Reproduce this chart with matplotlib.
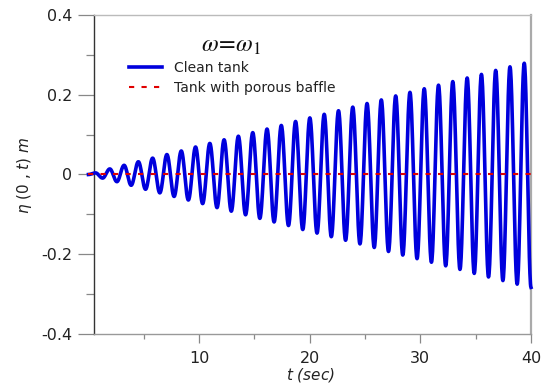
import numpy as np
import matplotlib
matplotlib.use("Agg")
import matplotlib.pyplot as plt
from matplotlib.ticker import FixedLocator, FixedFormatter

# ---- data: extrema of the clean-tank free-surface elevation ----
ext_t = [0.0, 0.64, 1.28, 1.93, 2.57, 3.22, 3.86, 4.51, 5.16, 5.80, 6.45, 7.09, 7.74, 8.39,
         9.03, 9.68, 10.32, 10.97, 11.62, 12.26, 12.91, 13.55, 14.20, 14.85, 15.49, 16.14,
         16.78, 17.43, 18.08, 18.72, 19.37, 20.01, 20.66, 21.31, 21.95, 22.60, 23.24, 23.89,
         24.54, 25.18, 25.83, 26.47, 27.12, 27.77, 28.41, 29.06, 29.70, 30.35, 31.00, 31.64,
         32.29, 32.93, 33.58, 34.23, 34.87, 35.52, 36.16, 36.81, 37.46, 38.10, 38.75, 39.39,
         40.0]
ext_eta = [0.0, 0.004, -0.009, 0.014, -0.018, 0.023, -0.027, 0.032, -0.037, 0.041, -0.046,
           0.050, -0.055, 0.059, -0.064, 0.069, -0.073, 0.078, -0.083, 0.087, -0.092, 0.096,
           -0.101, 0.105, -0.110, 0.114, -0.119, 0.123, -0.128, 0.133, -0.138, 0.142, -0.147,
           0.151, -0.156, 0.160, -0.165, 0.169, -0.174, 0.178, -0.183, 0.187, -0.193, 0.197,
           -0.202, 0.206, -0.211, 0.215, -0.220, 0.224, -0.229, 0.233, -0.238, 0.242, -0.248,
           0.251, -0.257, 0.261, -0.266, 0.270, -0.275, 0.279, -0.283]
# tank with porous baffle: stays at zero
baffle_t = [0.0, 40.0]
baffle_eta = [0.0, 0.0]

series_labels = ["Clean tank", "Tank with porous baffle"]
yticks = [-0.4, -0.2, 0.0, 0.2, 0.4]
ytick_labels = ["-0.4", "-0.2", "0", "0.2", "0.4"]
xticks = [10, 20, 30, 40]
xtick_labels = ["10", "20", "30", "40"]

# smooth (half-cosine) rendering between successive extrema
tt, ee = [], []
for i in range(len(ext_t) - 1):
    s = np.linspace(0, 1, 25, endpoint=False)
    tt.append(ext_t[i] + (ext_t[i + 1] - ext_t[i]) * s)
    ee.append(ext_eta[i] + (ext_eta[i + 1] - ext_eta[i]) * (1 - np.cos(np.pi * s)) / 2)
tt.append([ext_t[-1]]); ee.append([ext_eta[-1]])
tt = np.concatenate(tt); ee = np.concatenate(ee)

W, H = 548, 385
fig = plt.figure(figsize=(W / 100, H / 100), dpi=100)
ax = fig.add_axes([94 / W, 1 - 334 / H, (531 - 94) / W, (334 - 15) / H])

ax.plot(tt, ee, color="#0000dd", lw=2.6, label=series_labels[0], zorder=3, clip_on=False,
        solid_joinstyle="round")
ax.plot(baffle_t, baffle_eta, color="#e00000", lw=1.5, ls=(0, (2.5, 3.5)),
        label=series_labels[1], zorder=4, clip_on=False)

ax.set_xlim(0.5, 40)
ax.set_ylim(-0.4, 0.4)

ax.xaxis.set_major_locator(FixedLocator(xticks))
ax.xaxis.set_major_formatter(FixedFormatter(xtick_labels))
ax.xaxis.set_minor_locator(FixedLocator([5, 15, 25, 35]))
ax.yaxis.set_major_locator(FixedLocator(yticks))
ax.yaxis.set_major_formatter(FixedFormatter(ytick_labels))
ax.yaxis.set_minor_locator(FixedLocator([-0.3, -0.1, 0.1, 0.3]))

ax.tick_params(axis="y", which="major", direction="out", length=11.5, width=0.9,
               color="#888888", labelsize=11.5, pad=4, labelcolor="#222222")
ax.tick_params(axis="y", which="minor", direction="out", length=6, width=0.9, color="#888888")
ax.tick_params(axis="x", which="major", direction="out", length=6.5, width=0.9,
               color="#888888", labelsize=11.5, pad=6, labelcolor="#222222")
ax.tick_params(axis="x", which="minor", direction="out", length=3.6, width=0.9, color="#888888")

ax.spines["left"].set_color("#333333"); ax.spines["left"].set_linewidth(1.0)
ax.spines["bottom"].set_color("#999999"); ax.spines["bottom"].set_linewidth(1.0)
ax.spines["top"].set_color("#bbbbbb"); ax.spines["top"].set_linewidth(1.0)
ax.spines["right"].set_color("#aaaaaa"); ax.spines["right"].set_linewidth(1.6)

fig.text(310 / W, 1 - 375 / H, "$t$ (sec)", ha="center", va="center", fontsize=11,
         color="#222222", style="italic")
fig.text(25 / W, 1 - 175 / H, r"$\eta$ (0 , $t$) $m$", ha="center", va="center",
         rotation=90, fontsize=11, color="#222222")

fig.text(231 / W, 1 - 45 / H, r"$\omega\!=\!\omega_1$", ha="center", va="center",
         fontsize=17.5, math_fontfamily="stix", color="#111111")

leg = ax.legend(loc="upper left", bbox_to_anchor=(129 / W, 1 - 61 / H),
                bbox_transform=fig.transFigure, frameon=False, fontsize=10,
                borderpad=0, borderaxespad=0, handlelength=2.4, handletextpad=0.85,
                labelspacing=0.45)
for txt in leg.get_texts():
    txt.set_color("#222222")

fig.savefig("out.png", dpi=100)
